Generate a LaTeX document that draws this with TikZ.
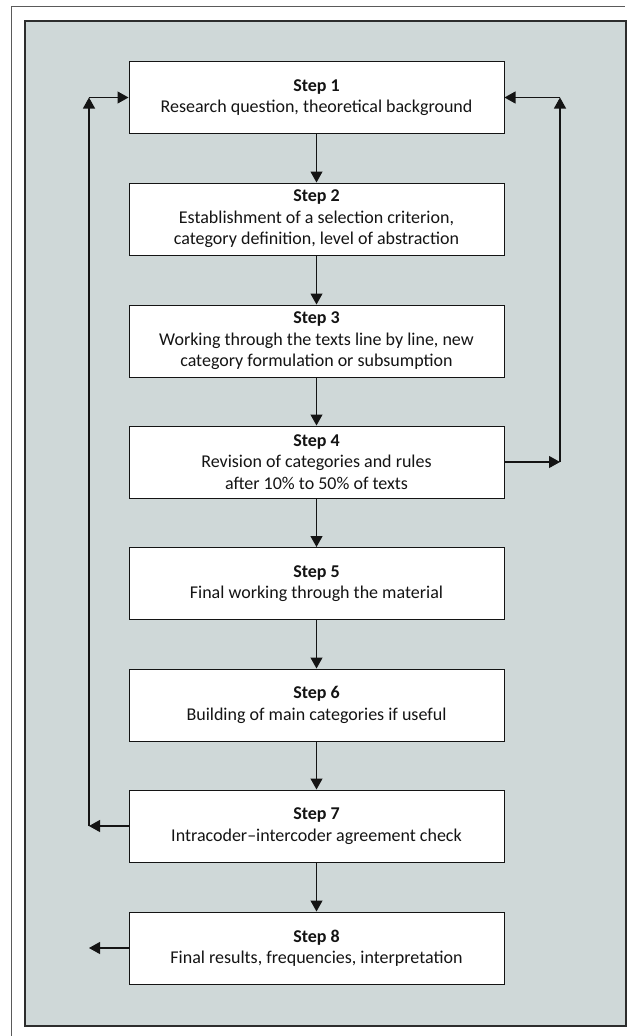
\documentclass[tikz,border=0pt]{standalone}
\usepackage{fontspec}
\setmainfont{Carlito}
\usetikzlibrary{arrows.meta}
\definecolor{panelfill}{RGB}{207,216,216}
\definecolor{panelline}{RGB}{45,45,45}
\definecolor{frameline}{RGB}{90,90,90}
\definecolor{inkcol}{RGB}{20,20,20}
\tikzset{
  stepbox/.style={draw=inkcol, line width=1pt, fill=white, minimum width=375pt,
    minimum height=72pt, inner sep=0pt, align=center, text=inkcol,
    font=\fontsize{18}{21.5}\selectfont},
  flow/.style={draw=inkcol, line width=1.1pt, -{Triangle[length=11pt,width=12pt]}}
}
\begin{document}
\begin{tikzpicture}[x=1pt,y=-1pt]
  \useasboundingbox (0,0) rectangle (631,1036);
  % page frame, left and top edges
  \draw[frameline, line width=0.7pt] (11,1036) -- (11,6) -- (625,6);
  % shaded panel
  \draw[panelline, line width=1.4pt, fill=panelfill] (25,21) rectangle (626,1026);

  \node[stepbox] (s1) at (316.5,97.5) {\textbf{Step 1}\\Research question, theoretical background};
  \node[stepbox] (s2) at (316.5,219) {\textbf{Step 2}\\Establishment of a selection criterion,\\category definition, level of abstraction};
  \node[stepbox] (s3) at (316.5,341) {\textbf{Step 3}\\Working through the texts line by line, new\\category formulation or subsumption};
  \node[stepbox] (s4) at (316.5,462) {\textbf{Step 4}\\Revision of categories and rules\\after 10\% to 50\% of texts};
  \node[stepbox] (s5) at (316.5,583.5) {\textbf{Step 5}\\Final working through the material};
  \node[stepbox] (s6) at (316.5,705) {\textbf{Step 6}\\Building of main categories if useful};
  \node[stepbox] (s7) at (316.5,826) {\textbf{Step 7}\\Intracoder--intercoder agreement check};
  \node[stepbox] (s8) at (316.5,948) {\textbf{Step 8}\\Final results, frequencies, interpretation};

  % main sequence
  \draw[flow] (s1) -- (s2);
  \draw[flow] (s2) -- (s3);
  \draw[flow] (s3) -- (s4);
  \draw[flow] (s4) -- (s5);
  \draw[flow] (s5) -- (s6);
  \draw[flow] (s6) -- (s7);
  \draw[flow] (s7) -- (s8);

  % feedback loop on the left
  \coordinate (lb) at (89,826);
  \coordinate (lt) at (89,97.5);
  \draw[flow] (s7.west) -- (lb);
  \draw[flow] (lb) -- (lt);
  \draw[flow] (lt) -- (s1.west);

  % feedback loop on the right
  \coordinate (rb) at (560,462);
  \coordinate (rt) at (560,97.5);
  \draw[flow] (s4.east) -- (rb);
  \draw[flow] (rb) -- (rt);
  \draw[flow] (rt) -- (s1.east);

  % output of the last step
  \coordinate (out) at (89,948);
  \draw[flow] (s8.west) -- (out);
\end{tikzpicture}
\end{document}
